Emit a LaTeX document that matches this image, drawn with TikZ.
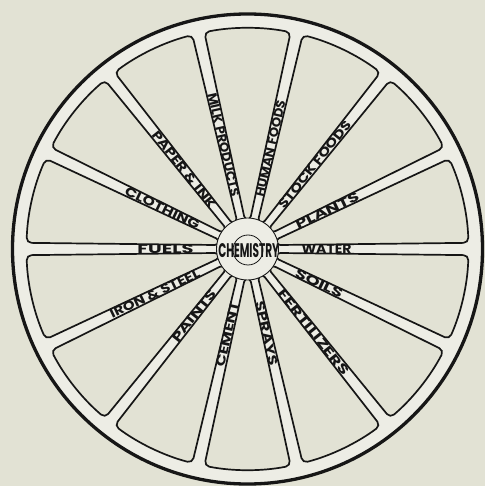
\documentclass[tikz,border=0pt]{standalone}
\usepackage{fontspec}
\usepackage{graphicx}
\newfontfamily\labf{Poppins}
\definecolor{bgc}{RGB}{226,226,212}
\definecolor{lightc}{RGB}{237,237,229}
\definecolor{ink}{RGB}{22,22,22}
\newcommand{\wlab}[2]{\resizebox{#1pt}{9pt}{\labf\bfseries #2}}
\tikzset{
  lab/.style={inner sep=0pt, outer sep=0pt, text=ink},
  cell/.style={fill=bgc, draw=ink, line width=1.7pt, rounded corners=5pt},
}
\begin{document}
\begin{tikzpicture}[x=1pt,y=1pt]
\useasboundingbox[fill=bgc] (-247.5,-237) rectangle (237.5,249);
\fill[lightc] (0,0) circle (235pt);
\draw[ink, line width=3.3pt] (0,0) circle (235pt);
\foreach \k in {0,...,13} {
  \pgfmathsetmacro\a{\k*360/14}
  \pgfmathsetmacro\b{\a+360/14}
  \path[cell] (\a+8.1:28pt) -- (\a+1.6:221pt)
     arc[start angle=\a+1.6, end angle=\b-1.6, radius=221pt]
     -- (\b-8.1:28pt) -- cycle;
}
\filldraw[fill=lightc, draw=ink, line width=0.9pt] (0,0) circle (31pt);
\draw[ink, line width=0.8pt] (0.5,-1) circle (15pt);
\node[lab] (hub) at (1.3,-1.3) {\resizebox{61pt}{14pt}{\labf\bfseries CHEMISTRY}};
% right half, reading outward
\node[lab, anchor=west, rotate=0]      (water)  at (0:54pt)      {\wlab{50}{WATER}};
\node[lab, anchor=west, rotate=-25.71] (soils)  at (-25.71:54pt) {\wlab{51}{SOILS}};
\node[lab, anchor=west, rotate=-51.43] (fert)   at (-51.43:54pt) {\wlab{105}{FERTILIZERS}};
\node[lab, anchor=west, rotate=-77.14] (sprays) at (-77.14:54pt) {\wlab{65}{SPRAYS}};
\node[lab, anchor=west, rotate=25.71]  (plants) at (25.71:54pt)  {\wlab{69}{PLANTS}};
\node[lab, anchor=west, rotate=51.43]  (stock)  at (51.43:54pt)  {\wlab{108}{STOCK FOODS}};
\node[lab, anchor=west, rotate=77.14]  (human)  at (77.14:54pt)  {\wlab{98}{HUMAN FOODS}};
% left half, reading inward
\node[lab, anchor=east, rotate=0]      (fuels)  at (180:54pt)    {\wlab{56}{FUELS}};
\node[lab, anchor=east, rotate=25.71]  (iron)   at (205.71:54pt) {\wlab{98}{IRON \& STEEL}};
\node[lab, anchor=east, rotate=51.43]  (paints) at (231.43:54pt) {\wlab{63}{PAINTS}};
\node[lab, anchor=east, rotate=77.14]  (cement) at (257.14:54pt) {\wlab{67}{CEMENT}};
\node[lab, anchor=east, rotate=-25.71] (cloth)  at (154.29:54pt) {\wlab{81}{CLOTHING}};
\node[lab, anchor=east, rotate=-51.43] (paper)  at (128.57:54pt) {\wlab{95}{PAPER \& INK}};
\node[lab, anchor=east, rotate=-77.14] (milk)   at (102.86:54pt) {\wlab{106}{MILK PRODUCTS}};
\end{tikzpicture}
\end{document}
